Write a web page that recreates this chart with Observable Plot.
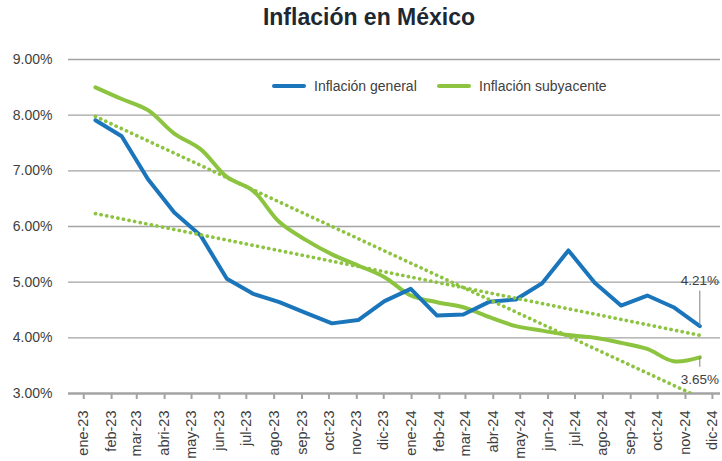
<!DOCTYPE html>
<html>
<head>
<meta charset="utf-8">
<script src="https://cdn.jsdelivr.net/npm/d3@7"></script>
<script src="https://cdn.jsdelivr.net/npm/@observablehq/plot@0.6"></script>
<style>
  body { margin: 0; background: #fff; font-family: "Liberation Sans", Arial, sans-serif; }
  #wrap { position: relative; width: 722px; height: 461px; overflow: hidden; }
  #title { position: absolute; left: 8px; top: 4px; width: 722px; text-align: center; font-size: 23px; font-weight: bold; color: #1e2833; }
  #chart { position: absolute; left: 0; top: 36px; }
  .leg { position: absolute; top: 78px; font-size: 14px; color: #404040; display: flex; align-items: center; }
  .sw { display: inline-block; width: 34px; height: 4px; border-radius: 2px; margin-right: 8px; }
</style>
</head>
<body>
<div id="wrap">
  <div id="title">Inflación en México</div>
  <div id="chart"></div>
  <div class="leg" style="left:272px"><span class="sw" style="background:#1a75bb"></span><span id="l1"></span></div>
  <div class="leg" style="left:437px"><span class="sw" style="background:#8cc43f"></span><span id="l2"></span></div>
</div>
<script>
// Month labels (x axis)
const meses = ["ene-23","feb-23","mar-23","abri-23","may-23","jun-23","jul-23","ago-23","sep-23","oct-23","nov-23","dic-23",
               "ene-24","feb-24","mar-24","abr-24","may-24","jun-24","jul-24","ago-24","sep-24","oct-24","nov-24","dic-24"];
// Series values (%)
const general =    [7.91,7.62,6.85,6.25,5.84,5.06,4.79,4.64,4.45,4.26,4.32,4.66,4.88,4.40,4.42,4.65,4.69,4.98,5.57,4.99,4.58,4.76,4.55,4.21];
const subyacente = [8.50,8.29,8.09,7.67,7.39,6.89,6.64,6.08,5.76,5.50,5.30,5.09,4.76,4.64,4.55,4.37,4.21,4.13,4.05,4.00,3.91,3.80,3.58,3.65];
// Y tick values
const yTicks = [3,4,5,6,7,8,9];
const series = ["Inflación general", "Inflación subyacente"];

const azul = "#1a75bb", verde = "#8cc43f", gris = "#a3a3a3", texto = "#404040";

document.getElementById("l1").textContent = series[0];
document.getElementById("l2").textContent = series[1];

// date axis: ticks at month starts, points spread across the months
const inicio = new Date(Date.UTC(2023, 0, 1));
const tickDates = meses.map((m, i) => new Date(Date.UTC(2023, i, 1)));
const t0 = Date.UTC(2023, 0, 14), paso = 29.26 * 864e5;
const data = meses.map((m, i) => ({mes: m, fecha: t0 + i * paso, general: general[i], subyacente: subyacente[i]}));
const last = data[data.length - 1];

const chart = Plot.plot({
  width: 722,
  height: 425,
  marginLeft: 68,
  marginRight: 2,
  marginTop: 23,
  marginBottom: 68,
  style: {fontFamily: '"Liberation Sans", Arial, sans-serif', background: "transparent"},
  x: {type: "utc", domain: [new Date(Date.UTC(2022, 11, 15)), new Date(Date.UTC(2024, 11, 10))]},
  y: {domain: [3, 9]},
  marks: [
    Plot.gridY(yTicks.filter(d => d > 3), {stroke: gris, strokeOpacity: 1, strokeWidth: 1.3}),
    Plot.axisY(yTicks, {tickFormat: d => d.toFixed(2) + "%", tickSize: 0, tickPadding: 16, fontSize: 14, fill: texto, label: null}),
    Plot.ruleY([3], {stroke: gris, strokeWidth: 2.4}),
    Plot.axisX({ticks: tickDates, tickFormat: d => meses[d3.utcMonth.count(inicio, d)], tickRotate: -90,
                tickSize: 6, tickPadding: 11, stroke: gris, strokeWidth: 2, fontSize: 14.5, fill: texto, label: null}),
    Plot.line(data, {x: "fecha", y: "subyacente", stroke: verde, strokeWidth: 4, curve: "catmull-rom"}),
    Plot.line(data, {x: "fecha", y: "general", stroke: azul, strokeWidth: 4, strokeLinejoin: "round"}),
    Plot.linearRegressionY(data, {x: "fecha", y: "general", stroke: verde, strokeWidth: 3.7, ci: 0,
                                  strokeDasharray: "0.1,5.6", strokeLinecap: "round", clip: true}),
    Plot.linearRegressionY(data, {x: "fecha", y: "subyacente", stroke: verde, strokeWidth: 3.7, ci: 0,
                                  strokeDasharray: "0.1,5.6", strokeLinecap: "round", clip: true}),
    Plot.ruleX([last], {x: "fecha", y1: "general", y2: d => d.general + 0.63, stroke: "#808080", strokeWidth: 1}),
    Plot.text([last], {x: "fecha", y: "general", text: d => d.general.toFixed(2) + "%", dy: -45, fontSize: 13.5, fill: texto}),
    Plot.ruleX([last], {x: "fecha", y1: "subyacente", y2: d => d.subyacente - 0.18, stroke: "#808080", strokeWidth: 1}),
    Plot.text([last], {x: "fecha", y: "subyacente", text: d => d.subyacente.toFixed(2) + "%", dy: 22, fontSize: 13.5, fill: texto})
  ]
});
document.getElementById("chart").appendChild(chart);
</script>
</body>
</html>
